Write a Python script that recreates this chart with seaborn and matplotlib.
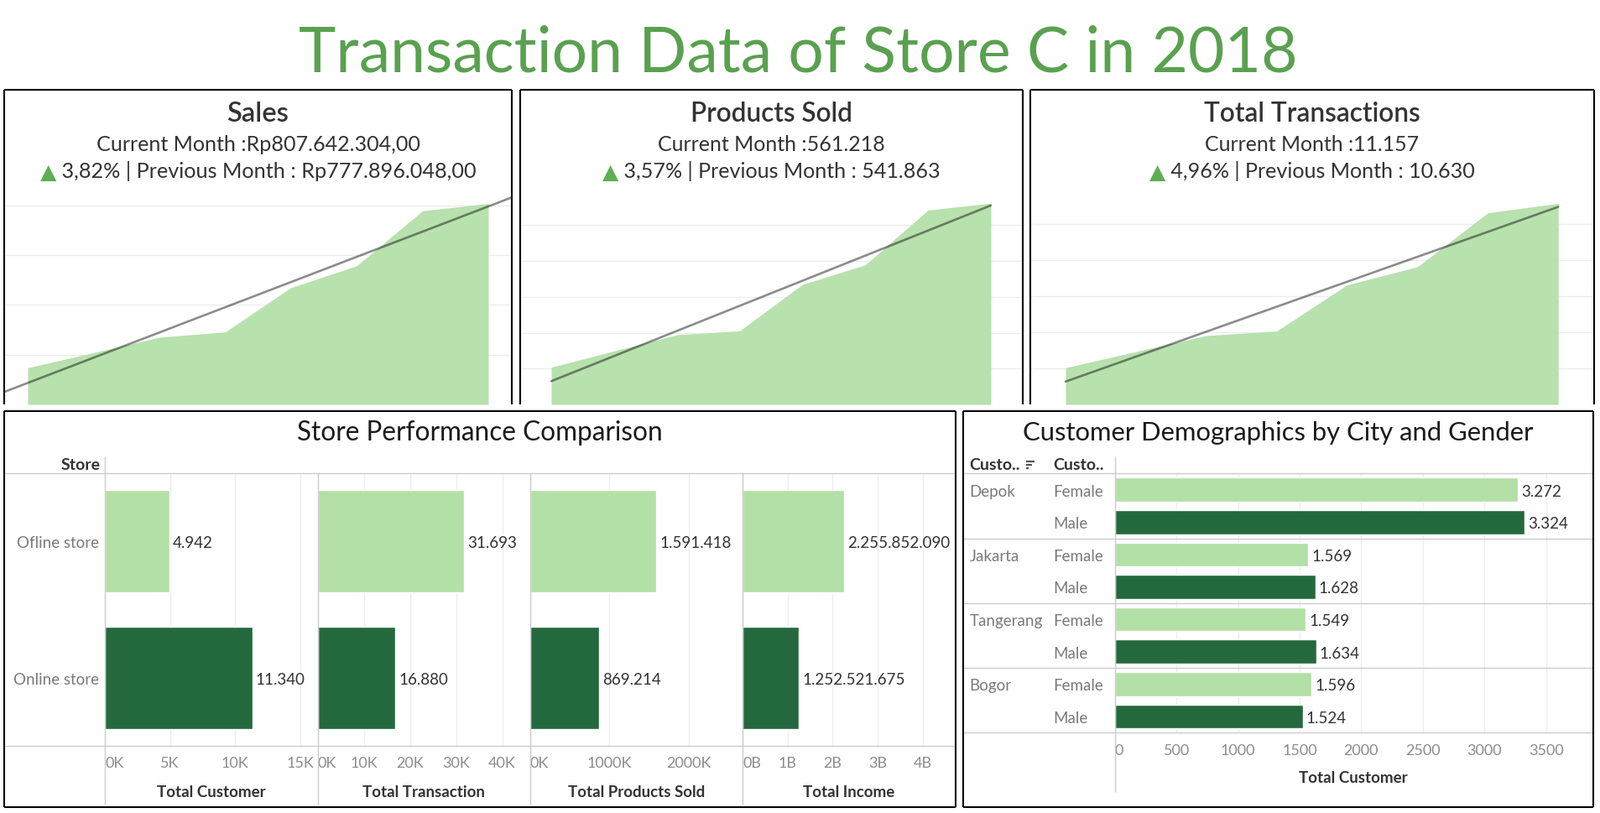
import numpy as np
import pandas as pd
import matplotlib
matplotlib.use('Agg')
import matplotlib.pyplot as plt
from matplotlib.lines import Line2D
from matplotlib import transforms
import seaborn as sns

# ---------------- data ----------------
months = ['Jan', 'Feb', 'Mar', 'Apr', 'May', 'Jun', 'Jul', 'Aug']
sales = [147.0e6, 208.0e6, 270.0e6, 291.0e6, 469.0e6, 557.0e6, 777896048.0, 807642304.0]
products_sold = [103700, 149000, 194200, 205200, 334600, 389100, 541863, 561218]
transactions = [2035, 2930, 3820, 4070, 6630, 7640, 10630, 11157]

stores = ['Ofline store', 'Online store']
total_customer = [4942, 11340]
total_transaction = [31693, 16880]
total_products = [1591418, 869214]
total_income = [2255852090, 1252521675]

cities = ['Depok', 'Jakarta', 'Tangerang', 'Bogor']
genders = ['Female', 'Male']
female_customers = [3272, 1569, 1549, 1596]
male_customers = [3324, 1628, 1634, 1524]

# ---------------- style ----------------
sns.set_style('white')
plt.rcParams['font.family'] = ['Lato', 'DejaVu Sans']

LIGHT = '#b3e0a6'
DARK = '#24693d'
AREA = '#b7e1ad'
TITLE_GREEN = '#59a14f'
TRI_GREEN = '#5fae55'
TXT = '#333333'
GREY_LBL = '#7a7a7a'
TICK_GREY = '#8c8c8c'
RULE = '#cccccc'
GRID = '#eeeeee'

W, H = 1907, 970
fig = plt.figure(figsize=(W / 100, H / 100), dpi=100)
fig.patch.set_facecolor('white')


def fx(x):
    return x / W


def fy(y):
    return 1 - y / H


def add_ax(x0, y0, x1, y1):
    return fig.add_axes([x0 / W, 1 - y1 / H, (x1 - x0) / W, (y1 - y0) / H])


def fline(x0, y0, x1, y1, color='black', lw=1.0, z=5):
    fig.add_artist(Line2D([fx(x0), fx(x1)], [fy(y0), fy(y1)], transform=fig.transFigure,
                          color=color, lw=lw, zorder=z, solid_capstyle='butt'))


def rend():
    return fig.canvas.get_renderer()


def fit_text(cx, base_y, s, target_w, size0=20, **kw):
    t = fig.text(fx(cx), fy(base_y), s, fontsize=size0, ha='center', va='baseline', **kw)
    w = t.get_window_extent(rend()).width
    t.set_fontsize(size0 * target_w / w)
    return t


def fit_segments(cx, base_y, segs, target_w, size0=16, **kw):
    r = rend()
    ts = [fig.text(0, fy(base_y), s, fontsize=size0, ha='left', va='baseline', color=c,
                   family=fam, **kw) for s, c, fam in segs]
    w = sum(t.get_window_extent(r).width for t in ts)
    for t in ts:
        t.set_fontsize(size0 * target_w / w)
    ws = [t.get_window_extent(r).width for t in ts]
    x = cx - sum(ws) / 2
    for t, wi in zip(ts, ws):
        t.set_x(fx(x))
        x += wi


def dotnum(v):
    return f"{int(round(v)):,}".replace(',', '.')


def rupiah(v):
    s = f"{v:,.2f}".replace(',', 'X').replace('.', ',').replace('X', '.')
    return 'Rp' + s


def pct(a, b):
    return f"{(a / b - 1) * 100:.2f}".replace('.', ',') + '%'


# ---------------- main title ----------------
fit_text(951, 85, 'Transaction Data of Store C in 2018', 1193, color=TITLE_GREEN)

# ---------------- top KPI panels ----------------
top_cfg = [
    # title, values, formatter, box x0, x1, xlim, ymax, ystep, extend trend, widths
    ('Sales', sales, rupiah, 5, 610, (-0.357, 7.357), 853e6, 200e6, True, (74, 387.5, 521.5)),
    ('Products Sold', products_sold, dotnum, 620, 1219, (-0.494, 7.508), 592e3, 100e3, False, (193.6, 271.5, 404)),
    ('Total Transactions', transactions, dotnum, 1228, 1900, (-0.5, 7.51), 11.78e3, 2e3, False, (257.7, 256.3, 390)),
]

for name, vals, fmt, bx0, bx1, xl, ymax, ystep, extend, widths in top_cfg:
    cx = (bx0 + bx1) / 2
    xs = np.arange(len(months))
    ax = add_ax(bx0, 230, bx1, 483)
    ax.set_xlim(*xl)
    ax.set_ylim(0, ymax)
    ax.fill_between(xs, vals, 0, color=AREA, lw=0, zorder=1)
    sns.regplot(x=xs, y=np.array(vals, dtype=float), scatter=False, ci=None, truncate=not extend,
                line_kws=dict(color='black', alpha=0.45, lw=1.9, zorder=3), ax=ax)
    ax.set_xlim(*xl)
    ax.set_ylim(0, ymax)
    ax.set_yticks(np.arange(ystep, ymax, ystep))
    ax.set_xticks([])
    ax.grid(axis='y', color='#ededed', lw=1)
    ax.grid(axis='x', visible=False)
    ax.set_axisbelow(True)
    ax.tick_params(left=False, labelleft=False, bottom=False, labelbottom=False)
    ax.set_xlabel('')
    ax.set_ylabel('')
    for s in ax.spines.values():
        s.set_visible(False)
    ax.patch.set_alpha(0)

    cur, prev = vals[-1], vals[-2]
    fit_text(cx, 145, name, widths[0], color=TXT, weight='semibold')
    fit_text(cx, 180, 'Current Month :' + fmt(cur), widths[1], color=TXT)
    fit_segments(cx, 212.5, [('▲', TRI_GREEN, ['DejaVu Sans']),
                             (' ' + pct(cur, prev) + ' | Previous Month : ' + fmt(prev), TXT,
                              ['Lato', 'DejaVu Sans'])], widths[2])

    # borders (no bottom edge)
    fline(bx0, 108, bx1, 108, lw=1.5)
    fline(bx0, 108, bx0, 483, lw=1.5)
    fline(bx1, 108, bx1, 483, lw=1.5)

# ---------------- bottom-left: store performance ----------------
fit_text(571.5, 525, 'Store Performance Comparison', 436, color='#1a1a1a')
fig.text(fx(119.6), fy(560), 'Store', ha='right', va='baseline', fontsize=14, weight='bold', color=TXT)

fmtK = lambda v: f"{v / 1000:.0f}K"
fmtB = lambda v: f"{v / 1e9:.0f}B"
bar_cfg = [
    ('Total Customer', total_customer, 125, 378.5, 16350, [0, 5000, 10000, 15000], fmtK),
    ('Total Transaction', total_transaction, 378.5, 632, 46090, [0, 10000, 20000, 30000, 40000], fmtK),
    ('Total Products Sold', total_products, 632, 885, 2680000, [0, 1000000, 2000000], fmtK),
    ('Total Income', total_income, 885, 1138.5, 4.72e9, [0, 1e9, 2e9, 3e9, 4e9], fmtB),
]

for i, (title, vals, x0, x1, xmax, ticks, tf) in enumerate(bar_cfg):
    ax = add_ax(x0, 565, x1, 890)
    sns.barplot(x=vals, y=stores, hue=stores, palette=[LIGHT, DARK], width=0.75, saturation=1,
                legend=False, ax=ax)
    ax.set_xlim(0, xmax)
    ax.set_ylim(1.5, -0.5)
    ax.set_xticks(ticks)
    ax.set_xticklabels([tf(t) for t in ticks])
    ax.get_xticklabels()[0].set_horizontalalignment('left')
    ax.grid(axis='x', color=GRID, lw=1)
    ax.grid(axis='y', visible=False)
    ax.set_axisbelow(True)
    ax.tick_params(axis='x', length=0, pad=9, labelsize=13, labelcolor=TICK_GREY)
    if i == 0:
        ax.tick_params(axis='y', length=0, pad=5, labelsize=13.5, labelcolor=GREY_LBL)
    else:
        ax.tick_params(axis='y', length=0, labelleft=False)
    ax.set_xlabel('')
    ax.set_ylabel('')
    for s in ax.spines.values():
        s.set_visible(False)
    ax.patch.set_alpha(0)
    for j, v in enumerate(vals):
        ax.annotate(dotnum(v), (v, j), xytext=(4, 0), textcoords='offset pixels',
                    ha='left', va='center_baseline', fontsize=13.5, color=TXT)
    fig.text(fx((x0 + x1) / 2), fy(950), title, ha='center', va='baseline', fontsize=13.5,
             weight='bold', color=TXT)
    if i > 0:
        fline(x0, 565, x0, 960, color=RULE, lw=1)

fline(125, 545, 125, 960, color=RULE, lw=1)
fline(5, 565, 1138.5, 565, color=RULE, lw=1)
fline(5, 890, 1138.5, 890, color=RULE, lw=1)
# panel border
for a, b, c, d in [(5, 491, 1138.5, 491), (5, 962.5, 1138.5, 962.5), (5, 491, 5, 962.5),
                   (1138.5, 491, 1138.5, 962.5)]:
    fline(a, b, c, d, lw=1.5)

# ---------------- bottom-right: demographics ----------------
fit_text(1523.6, 525, 'Customer Demographics by City and Gender', 611, color='#1a1a1a')
fig.text(fx(1155.7), fy(560), 'Custo..', ha='left', va='baseline', fontsize=14, weight='bold', color=TXT)
fig.text(fx(1255.5), fy(560), 'Custo..', ha='left', va='baseline', fontsize=14, weight='bold', color=TXT)
# sort icon
for yy, ln in [(551.3, 10), (555.2, 6.7), (559.2, 2.7)]:
    fline(1223, yy, 1223 + ln, yy, color='#555555', lw=1.6)

rows = []
for c, f, m in zip(cities, female_customers, male_customers):
    rows.append((c, genders[0], f))
    rows.append((c, genders[1], m))
df = pd.DataFrame(rows, columns=['City', 'Gender', 'Total Customer'])
df['Row'] = df['City'] + ' / ' + df['Gender']

DY0, DY1 = 565.3, 874.3
ax = add_ax(1328.8, DY0, 1897, DY1)
sns.barplot(data=df, x='Total Customer', y='Row', hue='Gender', palette={'Female': LIGHT, 'Male': DARK},
            dodge=False, width=0.74, saturation=1, legend=False, ax=ax)
ax.set_xlim(0, 3870)
ax.set_ylim(len(df) - 0.5, -0.5)
dticks = [0, 500, 1000, 1500, 2000, 2500, 3000, 3500]
ax.set_xticks(dticks)
ax.set_xticklabels([str(t) for t in dticks])
ax.get_xticklabels()[0].set_horizontalalignment('left')
ax.set_yticks([])
ax.grid(axis='x', color=GRID, lw=1)
ax.grid(axis='y', visible=False)
ax.set_axisbelow(True)
ax.tick_params(axis='x', length=0, pad=9, labelsize=13, labelcolor=TICK_GREY)
ax.set_xlabel('')
ax.set_ylabel('')
for s in ax.spines.values():
    s.set_visible(False)
ax.patch.set_alpha(0)
bt = transforms.blended_transform_factory(fig.transFigure, ax.transData)
for j, r in df.iterrows():
    ax.annotate(dotnum(r['Total Customer']), (r['Total Customer'], j), xytext=(4, 0),
                textcoords='offset pixels', ha='left', va='center_baseline', fontsize=13.5, color=TXT)
    ax.text(fx(1255.5), j, r['Gender'], transform=bt, ha='left', va='center_baseline',
            fontsize=13.5, color=GREY_LBL, clip_on=False)
    if r['Gender'] == genders[0]:
        ax.text(fx(1155.7), j, r['City'], transform=bt, ha='left', va='center_baseline',
                fontsize=13.5, color=GREY_LBL, clip_on=False)
fig.text(fx(1613), fy(933.3), 'Total Customer', ha='center', va='baseline', fontsize=13.5,
         weight='bold', color=TXT)

fline(1328.8, 545, 1328.8, 945, color=RULE, lw=1)
grp_h = (DY1 - DY0) / len(cities)
for k in range(len(cities) + 1):
    yy = DY0 + k * grp_h
    fline(1148, yy, 1899, yy, color=RULE, lw=1)
for a, b, c, d in [(1148, 491, 1899, 491), (1148, 962.5, 1899, 962.5), (1148, 491, 1148, 962.5),
                   (1899, 491, 1899, 962.5)]:
    fline(a, b, c, d, lw=1.5)

fig.savefig('out.png', dpi=100, facecolor='white')
